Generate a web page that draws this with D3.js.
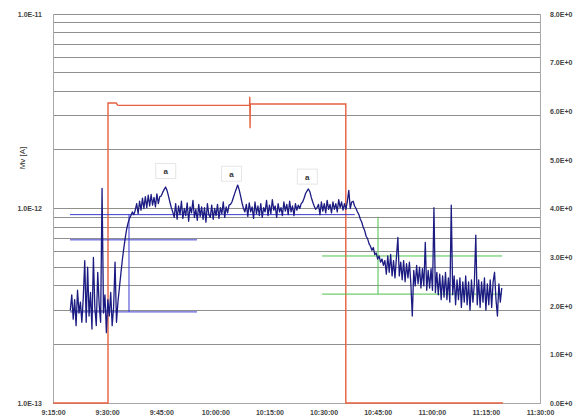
<!DOCTYPE html>
<html>
<head>
<meta charset="utf-8">
<script src="https://cdn.jsdelivr.net/npm/d3@7"></script>
<style>
body { margin: 0; background: #fff; }
svg { display: block; }
text { font-family: Arial, "Liberation Sans", sans-serif; }
</style>
</head>
<body>
<svg id="chart" width="573" height="419"></svg>
<script>
// Measured current, sampled every 24 s starting 9:19:48 (values in 1e-13 A)
const MV_START = "9:19:48";
const MV_STEP_SEC = 24;
const mvValues = [
	3.0, 3.6, 2.7, 3.4, 2.5, 3.8, 2.9, 3.3, 2.6, 3.5,
	5.4, 2.6, 5.0, 2.8, 3.7, 2.4, 5.6, 3.1, 2.5, 4.7,
	3.2, 2.6, 12.7, 2.9, 3.6, 2.3, 3.4, 2.8, 3.7, 2.5,
	3.1, 5.3, 2.6, 3.3,
	3.9, 4.6, 5.4, 6.2, 7.0, 7.8, 8.4, 8.9, 9.2, 9.6, 9.3, 9.8,
	10.6, 9.4, 10.9, 9.8, 11.3, 10.0, 11.5, 10.1, 11.7, 10.3, 11.8, 10.4, 11.4, 10.2, 11.9, 10.6, 11.5,
	11.6, 12.1, 12.5, 12.9, 12.4, 11.6, 10.8, 10.1, 9.6,
	9.0, 10.6, 8.8, 10.3, 9.3, 10.9, 8.9, 10.0, 9.2, 10.7,
	8.6, 10.2, 9.5, 11.0, 9.0, 9.9, 8.7, 10.5, 9.1, 10.2,
	8.8, 10.1, 8.5, 10.6, 9.3, 9.0, 10.4, 8.8, 10.0, 9.2,
	10.5, 8.9, 10.1, 9.4, 10.8, 9.0, 10.2, 9.5, 10.4, 10.5,
	10.8,
	11.4, 12.0, 12.6, 13.2, 12.5, 11.6, 10.7, 10.0, 9.6,
	10.5, 9.1, 10.7, 9.6, 10.2, 8.9, 10.8, 9.4, 10.3, 9.2,
	10.6, 9.0, 10.1, 9.6, 11.0, 9.2, 10.4, 9.4, 11.1, 9.8,
	10.3, 9.0, 10.6, 9.6, 10.1, 9.2, 10.8, 9.7, 10.5, 9.3,
	10.9, 9.6, 10.3, 9.2, 10.6, 9.8, 10.4, 10.0, 10.6, 10.8,
	11.3, 11.9, 12.3, 12.6, 12.2, 11.4, 10.8, 10.3, 9.9, 10.1,
	10.5, 9.3, 10.8, 9.7, 10.6, 9.5, 11.0, 9.9, 10.5, 9.5,
	10.8, 9.9, 10.6, 9.6, 11.1, 10.1, 10.8, 9.8, 10.6, 9.9,
	10.9, 12.4, 10.0, 10.8, 10.9, 10.3,
	10.0, 9.6, 9.3, 8.8, 8.5, 8.0, 7.7, 7.2, 7.0, 6.6,
	6.4, 6.1, 6.3, 5.8, 5.9, 5.5, 5.7, 5.3, 5.5, 5.1, 5.4,
	4.6, 5.7, 4.7, 5.8, 4.5, 5.4, 4.4, 5.6, 7.1, 4.5,
	5.3, 4.3, 5.4, 4.2, 5.2, 4.4, 5.3, 4.1, 2.8, 4.8,
	4.0, 5.1, 4.1, 5.0, 3.9, 4.9, 4.0, 6.7, 3.8, 4.8,
	3.9, 4.9, 3.8, 10.1, 3.7, 4.7, 3.6, 4.6, 3.4, 4.5,
	3.5, 4.7, 3.4, 4.4, 3.3, 10.4, 3.6, 4.5, 3.2, 4.3,
	3.4, 4.4, 3.1, 4.2, 3.3, 4.5, 3.2, 4.2, 3.0, 4.3,
	3.3, 4.1, 7.3, 3.2, 4.3, 3.1, 4.2, 3.3, 4.4, 3.0,
	4.1, 3.2, 4.3, 3.1, 4.2, 4.7, 3.4, 2.8, 4.1, 3.3, 3.9
];

// Secondary series (right axis)
const supplyTimes = ["9:15:00", "9:30:15", "9:30:15", "9:32:30", "9:33:00", "10:09:30", "10:09:33", "10:09:38", "10:09:42", "10:36:10", "10:36:10", "11:19:45"];
const supplyValues = [0, 0, 6.17, 6.17, 6.12, 6.12, 6.3, 5.65, 6.15, 6.15, 0, 0];

// Annotation lines: [time1, value1, time2, value2], values in A
const blueMarks = [
	["9:19:43", 9.3e-13, "10:38:40", 9.3e-13],
	["9:19:43", 6.9e-13, "9:54:55", 6.9e-13],
	["9:19:43", 2.94e-13, "9:54:55", 2.94e-13],
	["9:36:04", 9.3e-13, "9:36:04", 2.94e-13]
];
const greenMarks = [
	["10:29:36", 5.7e-13, "11:19:30", 5.7e-13],
	["10:29:36", 3.63e-13, "11:19:30", 3.63e-13],
	["10:45:06", 9.04e-13, "10:45:06", 3.63e-13]
];

// Peak labels: [time, value]
const peakLabels = [["9:46:15", 1.55e-12], ["10:04:30", 1.5e-12], ["10:25:30", 1.45e-12]];

const xTicks = ["9:15:00", "9:30:00", "9:45:00", "10:00:00", "10:15:00", "10:30:00", "10:45:00", "11:00:00", "11:15:00", "11:30:00"];
const leftTicks = [1e-13, 1e-12, 1e-11];
const rightTicks = [0, 1, 2, 3, 4, 5, 6, 7, 8];

const LEFT = 53, RIGHT = 540, TOP = 14, BOTTOM = 403;

const parse = d3.timeParse("%H:%M:%S");
const fmt = d3.timeFormat("%-H:%M:%S");

const svg = d3.select("#chart");

const x = d3.scaleTime()
	.domain([parse("9:15:00"), parse("11:30:00")])
	.range([LEFT, RIGHT]);
const yL = d3.scaleLog().domain([1e-13, 1e-11]).range([BOTTOM, TOP]);
const yR = d3.scaleLinear().domain([0, 8]).range([BOTTOM, TOP]);

// Log gridlines
const gridVals = [];
[1e-13, 1e-12].forEach(dec => { for (let k = 1; k <= 9; k++) gridVals.push(k * dec); });
gridVals.push(1e-11);

svg.append("g")
	.selectAll("line")
	.data(gridVals)
	.enter()
	.append("line")
	.attr("x1", LEFT).attr("x2", RIGHT)
	.attr("y1", d => yL(d)).attr("y2", d => yL(d))
	.attr("stroke", "#8f8f8f")
	.attr("stroke-width", 1)
	.attr("shape-rendering", "crispEdges");

// Frame
svg.append("path")
	.attr("d", `M${LEFT},${TOP}V${BOTTOM}H${RIGHT}V${TOP}`)
	.attr("fill", "none")
	.attr("stroke", "#a8a8a8")
	.attr("shape-rendering", "crispEdges");

// Axes (labels only)
svg.append("g")
	.attr("transform", `translate(${LEFT - 8},0)`)
	.call(d3.axisLeft(yL).tickValues(leftTicks).tickSize(0)
		.tickFormat(d => d.toExponential(1).toUpperCase()))
	.call(g => g.select(".domain").remove());

svg.append("g")
	.attr("transform", `translate(${RIGHT + 7},0)`)
	.call(d3.axisRight(yR).tickValues(rightTicks).tickSize(0)
		.tickFormat(d => d.toFixed(1) + "E+0"))
	.call(g => g.select(".domain").remove());

svg.append("g")
	.attr("transform", `translate(0,${BOTTOM + 4})`)
	.call(d3.axisBottom(x).tickValues(xTicks.map(parse)).tickSize(0).tickFormat(fmt))
	.call(g => g.select(".domain").remove());

svg.selectAll(".tick text")
	.attr("font-size", "7px")
	.attr("font-weight", "bold")
	.attr("fill", "#444")
	.attr("font-family", "Arial, 'Liberation Sans', sans-serif");

// Axis title
svg.append("text")
	.attr("transform", `translate(25, 158) rotate(-90)`)
	.attr("text-anchor", "middle")
	.attr("font-size", "8px")
	.attr("fill", "#333")
	.text("Mv [A]");

// Supply line (right axis)
const supply = supplyTimes.map((t, i) => [parse(t), supplyValues[i]]);
svg.append("path")
	.datum(supply)
	.attr("fill", "none")
	.attr("stroke", "#e5603f")
	.attr("stroke-width", 1.4)
	.attr("d", d3.line().x(d => x(d[0])).y(d => yR(d[1])));

// Annotation lines
const drawMarks = (marks, color) => {
	svg.append("g")
		.selectAll("line")
		.data(marks)
		.enter()
		.append("line")
		.attr("x1", d => x(parse(d[0]))).attr("y1", d => yL(d[1]))
		.attr("x2", d => x(parse(d[2]))).attr("y2", d => yL(d[3]))
		.attr("stroke", color)
		.attr("stroke-width", 1);
};
drawMarks(blueMarks, "#3c3cd0");
drawMarks(greenMarks, "#4cc24c");

// Current trace
const t0 = parse(MV_START);
const mv = mvValues.map((v, i) => [new Date(t0.getTime() + i * MV_STEP_SEC * 1000), v * 1e-13]);
svg.append("path")
	.datum(mv)
	.attr("fill", "none")
	.attr("stroke", "#1b1b82")
	.attr("stroke-width", 1.3)
	.attr("stroke-linejoin", "round")
	.attr("d", d3.line().x(d => x(d[0])).y(d => yL(d[1])));

// Peak labels
const lbl = svg.append("g")
	.selectAll("g")
	.data(peakLabels)
	.enter()
	.append("g")
	.attr("transform", d => `translate(${x(parse(d[0]))},${yL(d[1])})`);
lbl.append("rect")
	.attr("x", -10).attr("y", -8).attr("width", 20).attr("height", 15)
	.attr("fill", "#fff")
	.attr("stroke", "#e6e6e6");
lbl.append("text")
	.attr("text-anchor", "middle")
	.attr("y", 3)
	.attr("font-size", "8px")
	.attr("font-weight", "bold")
	.attr("fill", "#333")
	.text("a");
</script>
</body>
</html>
